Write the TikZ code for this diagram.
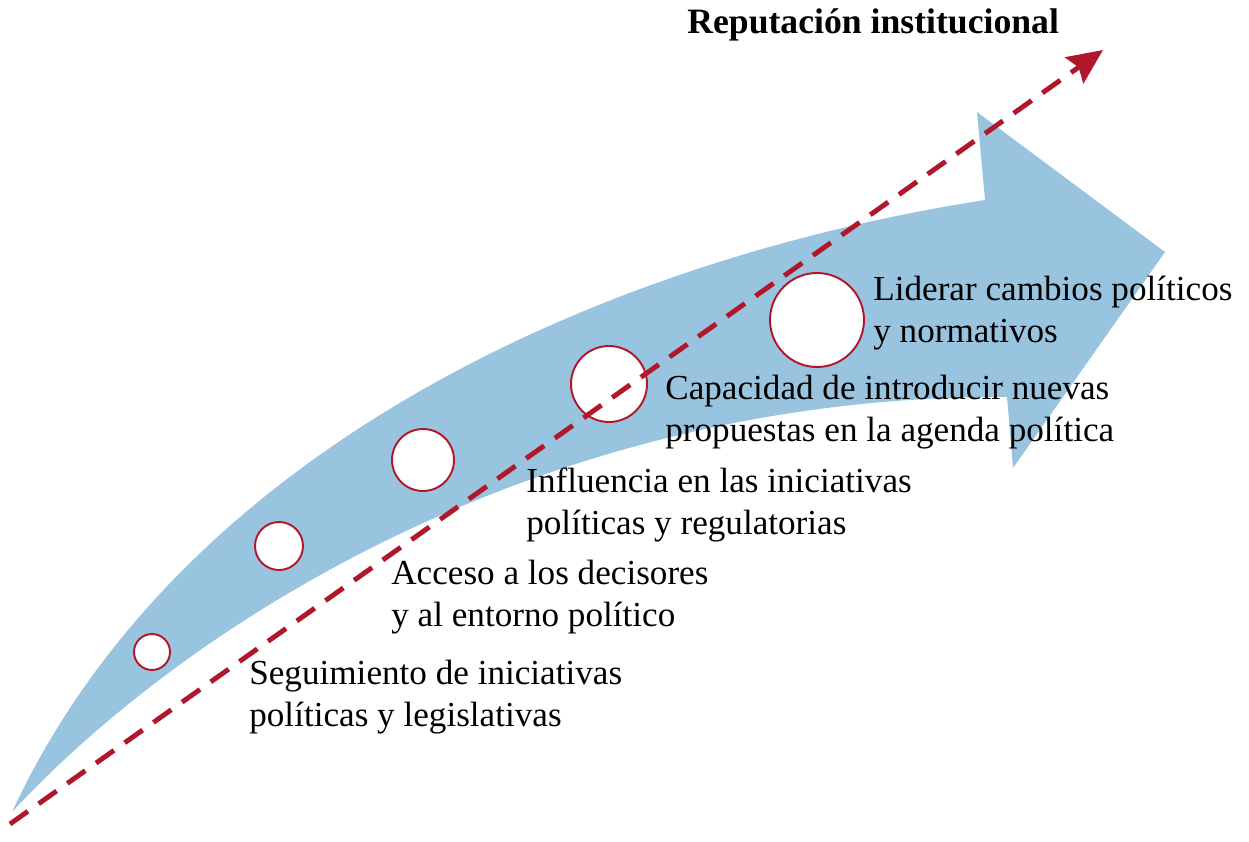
\documentclass[tikz,border=0pt]{standalone}
\usepackage{fontspec}
\setmainfont{Liberation Serif}
\usepackage{xcolor}
\usetikzlibrary{arrows.meta}
\definecolor{repblue}{HTML}{99C4DF}
\definecolor{repred}{HTML}{B0172A}
\tikzset{
  reppicture/.style={x=0.02cm, y=-0.02cm},
  repstage/.style={circle, draw=repred, line width=1.1pt, fill=white, inner sep=0pt},
  replabel/.style={anchor=west, align=left, inner sep=0pt, font=\fontsize{20}{23.8}\selectfont},
  reptitle/.style={anchor=base west, inner sep=0pt, font=\bfseries\fontsize{20.3}{24}\selectfont},
  repline/.style={draw=repred, line width=2.8pt, dash pattern=on 12.5pt off 7.5pt, -{Stealth[length=20pt, width=18pt, inset=3pt]}}
}
\begin{document}
\begin{tikzpicture}[reppicture]
\useasboundingbox (0,0) rectangle (1249,842);
% broad curved arrow
\fill[repblue] (12,812) .. controls (180,450) and (600,260) .. (985,200)
  -- (977,112) -- (1165,252) -- (1013,468) -- (1007,397)
  .. controls (560,395) and (200,610) .. (12,812) -- cycle;
\node[repstage, minimum size=0.72cm] (s1) at (152,652) {};
\node[repstage, minimum size=0.96cm] (s2) at (279,546) {};
\node[repstage, minimum size=1.24cm] (s3) at (423,460) {};
\node[repstage, minimum size=1.52cm] (s4) at (609,384) {};
\node[repstage, minimum size=1.88cm] (s5) at (817,320) {};
\node[replabel] (l1) at (249,697) {Seguimiento de iniciativas\\políticas y legislativas};
\node[replabel] (l2) at (391,597) {Acceso a los decisores\\y al entorno político};
\node[replabel] (l3) at (526,505) {Influencia en las iniciativas\\políticas y regulatorias};
\node[replabel] (l4) at (665,412) {Capacidad de introducir nuevas\\propuestas en la agenda política};
\node[replabel] (l5) at (873,313) {Liderar cambios políticos\\y normativos};
\node[reptitle] (title) at (687,33) {Reputación institucional};
% reputation axis
\coordinate (start) at (10,824);
\coordinate (end) at (1103,50);
\draw[repline] (start) -- (end);
\end{tikzpicture}
\end{document}
